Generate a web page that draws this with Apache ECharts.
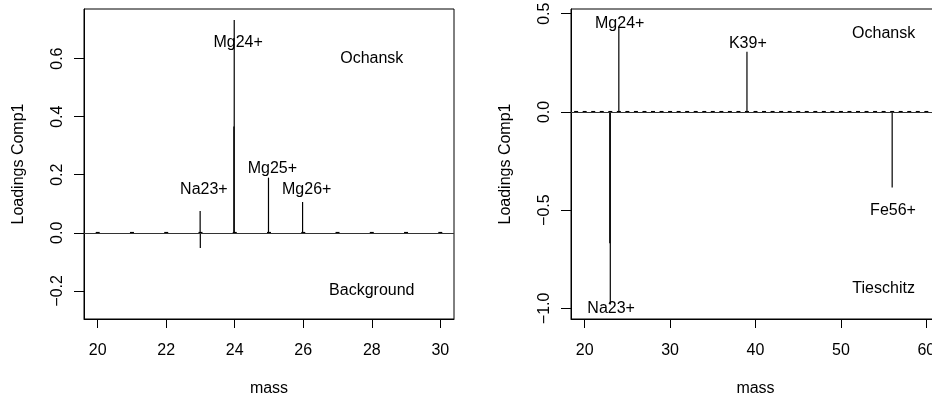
<!DOCTYPE html>
<html>
<head>
<meta charset="utf-8">
<script src="https://cdn.jsdelivr.net/npm/echarts@6/dist/echarts.min.js"></script>
<style>
  html, body { margin: 0; padding: 0; background: #fff; }
  #chart { width: 932px; height: 400px; }
</style>
</head>
<body>
<div id="chart"></div>
<script>
// ---- Left panel: loadings of component 1, masses 20–30 ----
const leftStemMass  = [22.99, 22.995, 23.975, 23.985, 24.985, 25.98];
const leftStemValue = [0.075, -0.052, 0.366, 0.733, 0.19, 0.106];
const leftBaseMass  = [20, 21, 22, 23, 24, 25, 26, 27, 28, 29, 30];
const leftBaseSpan  = [0.003, 0.003, 0.003, 0.003, 0.003, 0.003, 0.003, 0.003, 0.003, 0.003, 0.003];
const leftLabelText = ['Mg24+', 'Na23+', 'Mg25+', 'Mg26+', 'Ochansk', 'Background'];
const leftLabelMass = [24.1, 23.1, 25.1, 26.1, 28, 28];
const leftLabelY    = [0.655, 0.15, 0.22, 0.15, 0.6, -0.2];
const leftXTicks = [20, 22, 24, 26, 28, 30];
const leftYTicks = [-0.2, 0, 0.2, 0.4, 0.6];

// ---- Right panel: loadings of component 1, masses 20–60 ----
const rightStemMass  = [22.94, 23.0, 24.0, 39.0, 56.0];
const rightStemValue = [-0.668, -0.98, 0.434, 0.307, -0.385];
const rightBaseMass  = [19, 20, 21, 22, 23, 24, 25, 26, 27, 28, 29, 30, 31, 32, 33, 34, 35, 36, 37, 38, 39, 40,
                        41, 42, 43, 44, 45, 46, 47, 48, 49, 50, 51, 52, 53, 54, 55, 56, 57, 58, 59, 60, 61];
const rightBaseSpan  = [0.005, 0.005, 0.005, 0.005, 0.005, 0.005, 0.005, 0.005, 0.005, 0.005, 0.005, 0.005, 0.005, 0.005,
                        0.005, 0.005, 0.005, 0.005, 0.005, 0.005, 0.005, 0.005, 0.005, 0.005, 0.005, 0.005, 0.005, 0.005,
                        0.005, 0.005, 0.005, 0.005, 0.005, 0.005, 0.005, 0.005, 0.005, 0.005, 0.005, 0.005, 0.005, 0.005, 0.005];
const rightLabelText = ['Mg24+', 'K39+', 'Ochansk', 'Fe56+', 'Tieschitz', 'Na23+'];
const rightLabelMass = [24.1, 39.1, 55, 56.1, 55, 23.1];
const rightLabelY    = [0.45, 0.35, 0.4, -0.5, -0.9, -1.0];
const rightXTicks = [20, 30, 40, 50, 60];
const rightYTicks = [-1, -0.5, 0, 0.5];

const FONT = '"Liberation Sans", Arial, Helvetica, sans-serif';
const FS = 16;

function fmtY(v) {
  const s = (Math.round(v * 10) / 10).toFixed(1);
  return s.replace('-', '\u2212');
}

function pairs(xs, ys) { return xs.map((x, i) => [x, ys[i]]); }

// vertical lines from zero to each loading (type "h" plot)
function stemSeries(idx, data, width, color) {
  return {
    type: 'custom', xAxisIndex: idx, yAxisIndex: idx, silent: true, clip: true,
    data: data,
    renderItem: function (params, api) {
      const x = api.value(0), y = api.value(1);
      const p0 = api.coord([x, 0]);
      const p1 = api.coord([x, y]);
      return { type: 'line', shape: { x1: p0[0], y1: p0[1], x2: p1[0], y2: p1[1] },
               style: { stroke: color, lineWidth: width } };
    },
    markLine: {
      silent: true, symbol: ['none', 'none'], label: { show: false },
      lineStyle: { color: '#333', width: 1, type: 'solid' },
      data: [{ yAxis: 0 }]
    }
  };
}

// small baseline signal at every nominal mass
function baseSeries(idx, data, width) {
  return {
    type: 'custom', xAxisIndex: idx, yAxisIndex: idx, silent: true, clip: true,
    data: data,
    renderItem: function (params, api) {
      const x = api.value(0), s = api.value(1);
      const p0 = api.coord([x, -s]);
      const p1 = api.coord([x, s]);
      return { type: 'line', shape: { x1: p0[0], y1: p0[1], x2: p1[0], y2: p1[1] },
               style: { stroke: '#000', lineWidth: width } };
    }
  };
}

function labelSeries(idx, xs, ys, texts) {
  return {
    type: 'custom', xAxisIndex: idx, yAxisIndex: idx, silent: true,
    data: pairs(xs, ys),
    renderItem: function (params, api) {
      const p = api.coord([api.value(0), api.value(1)]);
      return { type: 'text', x: p[0], y: p[1],
               style: { text: texts[params.dataIndex], fill: '#000', font: FS + 'px ' + FONT,
                        align: 'center', verticalAlign: 'middle' } };
    }
  };
}

function xAxisCfg(idx, min, max, ticks) {
  return {
    type: 'value', gridIndex: idx, min: min, max: max, position: 'bottom',
    name: 'mass', nameLocation: 'middle', nameGap: 62,
    nameTextStyle: { fontFamily: FONT, fontSize: FS, color: '#000' },
    axisLine: { show: true, onZero: false, lineStyle: { color: '#000', width: 1 } },
    axisTick: { show: true, inside: false, length: 9, customValues: ticks, lineStyle: { color: '#000', width: 1 } },
    axisLabel: { show: true, customValues: ticks, margin: 24, fontFamily: FONT, fontSize: FS, color: '#000',
                 formatter: v => String(v) },
    splitLine: { show: false }
  };
}

function yAxisCfg(idx, min, max, ticks) {
  return {
    type: 'value', gridIndex: idx, min: min, max: max, position: 'left',
    name: 'Loadings Comp1', nameLocation: 'middle', nameGap: 57,
    nameTextStyle: { fontFamily: FONT, fontSize: FS, color: '#000' },
    axisLine: { show: true, onZero: false, lineStyle: { color: '#000', width: 1 } },
    axisTick: { show: true, inside: false, length: 10, customValues: ticks, lineStyle: { color: '#000', width: 1 } },
    axisLabel: { show: true, customValues: ticks, rotate: 90, margin: 18, fontFamily: FONT, fontSize: FS, color: '#000',
                 formatter: fmtY },
    splitLine: { show: false }
  };
}

const chart = echarts.init(document.getElementById('chart'), null, { renderer: 'canvas' });
chart.setOption({
  animation: false,
  backgroundColor: '#fff',
  grid: [
    { left: 84, top: 9, width: 370, height: 310, outerBoundsMode: 'none', containLabel: false,
      show: true, borderColor: '#000', borderWidth: 1, backgroundColor: 'transparent' },
    { left: 571, top: 9, width: 369, height: 310, outerBoundsMode: 'none', containLabel: false,
      show: true, borderColor: '#000', borderWidth: 1, backgroundColor: 'transparent' }
  ],
  xAxis: [
    xAxisCfg(0, 19.6, 30.4, leftXTicks),
    xAxisCfg(1, 18.4, 61.6, rightXTicks)
  ],
  yAxis: [
    yAxisCfg(0, -0.297, 0.771, leftYTicks),
    yAxisCfg(1, -1.054, 0.524, rightYTicks)
  ],
  series: [
    stemSeries(0, pairs(leftStemMass, leftStemValue), 1.2, '#000'),
    baseSeries(0, pairs(leftBaseMass, leftBaseSpan), 4),
    labelSeries(0, leftLabelMass, leftLabelY, leftLabelText),
    stemSeries(1, pairs(rightStemMass, rightStemValue), 1.2, '#000'),
    baseSeries(1, pairs(rightBaseMass, rightBaseSpan), 4),
    labelSeries(1, rightLabelMass, rightLabelY, rightLabelText)
  ]
});
</script>
</body>
</html>
